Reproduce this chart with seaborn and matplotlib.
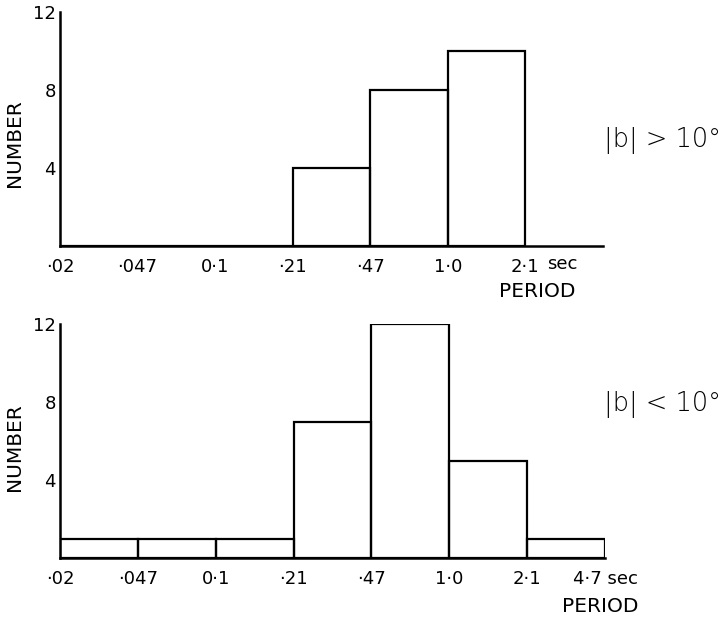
import matplotlib
matplotlib.use("Agg")
import matplotlib.pyplot as plt
import seaborn as sns
import numpy as np
import pandas as pd

# ---- data ----
top_tick_labels = ["·02", "·047", "0·1", "·21", "·47", "1·0", "2·1"]
top_counts = [0, 0, 0, 4, 8, 10]
bottom_tick_labels = ["·02", "·047", "0·1", "·21", "·47", "1·0", "2·1", "4·7 sec"]
bottom_counts = [1, 1, 1, 7, 12, 5, 1]
y_ticks = [4, 8, 12]
top_label = "|b| > 10°"
bottom_label = "|b| < 10°"

sns.set_style("white")
plt.rcParams["font.family"] = ["DejaVu Sans"]
plt.rcParams["text.color"] = "black"

fig = plt.figure(figsize=(7.27, 6.23), dpi=100)
W, H = 727, 623
ax_top = fig.add_axes([60 / W, 1 - 246 / H, 543 / W, 234 / H])
ax_bot = fig.add_axes([60 / W, 1 - 558 / H, 545 / W, 234 / H])


def draw(ax, counts, ticklabels):
    n = len(counts)
    df = pd.DataFrame({"pos": [i + 0.5 for i in range(n)],
                       "count": [float(c) for c in counts]})
    sns.histplot(data=df, x="pos", weights="count",
                 bins=list(range(n + 1)),
                 fill=False, color="black", linewidth=1.6, element="bars",
                 ax=ax)
    ax.set_xlim(0, 7)
    ax.set_ylim(0, 12)
    ax.set_yticks(y_ticks)
    ax.set_yticklabels([str(v) for v in y_ticks])
    ax.set_xticks(np.arange(len(ticklabels)))
    ax.set_xticklabels(ticklabels)
    for s in ["top", "right"]:
        ax.spines[s].set_visible(False)
    for s in ["left", "bottom"]:
        ax.spines[s].set_linewidth(1.8)
        ax.spines[s].set_color("black")
    ax.tick_params(axis="both", direction="in", length=5, width=1.6,
                   colors="black", labelsize=13)
    ax.tick_params(axis="x", pad=9)
    ax.tick_params(axis="y", pad=3)
    ax.set_xlabel("")
    ax.set_ylabel("")
    ax.patch.set_alpha(0)


draw(ax_top, top_counts, top_tick_labels)
draw(ax_bot, bottom_counts, bottom_tick_labels)

# NUMBER labels
fig.text(15 / W, 1 - 143 / H, "NUMBER", fontsize=14.5, rotation=90,
         ha="center", va="center", color="black")
fig.text(15 / W, 1 - 447 / H, "NUMBER", fontsize=14.5, rotation=90,
         ha="center", va="center", color="black")

# "sec" after 2·1 on the top axis
fig.text(547 / W, 1 - 264 / H, "sec", fontsize=13, ha="left", va="center",
         color="black")
# PERIOD labels
fig.text(537 / W, 1 - 282 / H, "PERIOD", fontsize=14.5, ha="center",
         va="top", color="black")
fig.text(600 / W, 1 - 597 / H, "PERIOD", fontsize=14.5, ha="center",
         va="top", color="black")

# region labels
fig.text(663 / W, 1 - 141 / H, top_label, fontsize=18.5, ha="center",
         va="center", fontweight="light", color="black")
fig.text(663 / W, 1 - 405 / H, bottom_label, fontsize=18.5, ha="center",
         va="center", fontweight="light", color="black")

fig.savefig("out.png", dpi=100, facecolor="white")
